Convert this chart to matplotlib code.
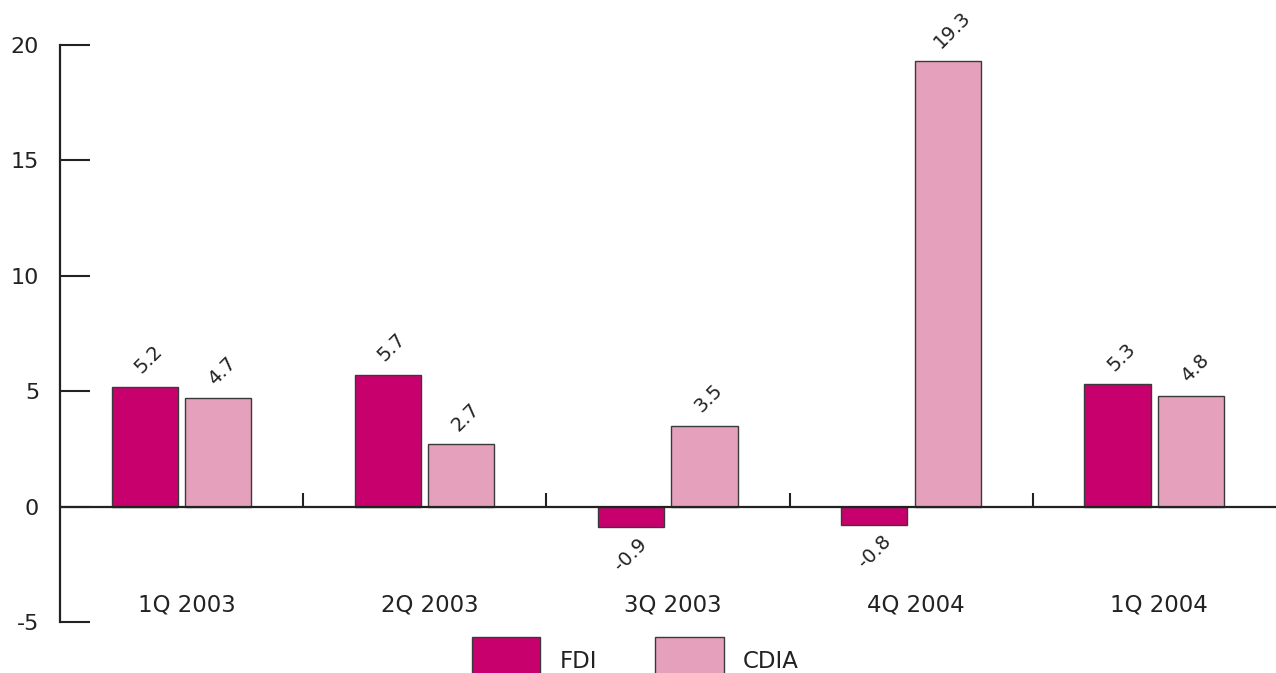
import numpy as np
import matplotlib
matplotlib.use('Agg')
import matplotlib.pyplot as plt
from matplotlib.patches import Patch

# Quarterly growth, percent
quarters = ['1Q 2003', '2Q 2003', '3Q 2003', '4Q 2004', '1Q 2004']
fdi = [5.2, 5.7, -0.9, -0.8, 5.3]
cdia = [4.7, 2.7, 3.5, 19.3, 4.8]

fdi_color = '#C8006E'
cdia_color = '#E5A1BC'
edge = '#3a3a3a'

plt.rcParams['font.family'] = 'DejaVu Sans'
plt.rcParams['axes.unicode_minus'] = False

fig = plt.figure(figsize=(12.76, 6.73), dpi=100)
ax = fig.add_axes([60 / 1276, 51 / 673, 1216 / 1276, 577 / 673])

x = np.arange(len(quarters))
w = 0.272
bars_fdi = ax.bar(x - 0.152, fdi, w, color=fdi_color, edgecolor=edge, linewidth=1.0, zorder=3)
bars_cdia = ax.bar(x + 0.15, cdia, w, color=cdia_color, edgecolor=edge, linewidth=1.0, zorder=3)

# value labels, tilted 45 degrees
for bars, vals in [(bars_fdi, fdi), (bars_cdia, cdia)]:
    for b, v in zip(bars, vals):
        cx = b.get_x() + b.get_width() / 2
        if v >= 0:
            ax.annotate(f'{v:.1f}', (cx, v), xytext=(3, 7), textcoords='offset points',
                        ha='center', va='bottom', rotation=45, fontsize=14, color='#222222')
        else:
            ax.annotate(f'{v:.1f}', (cx, v), xytext=(0, -5), textcoords='offset points',
                        ha='center', va='top', rotation=45, fontsize=14, color='#222222')

ax.set_xlim(-0.5, len(quarters) - 0.5)
ax.set_ylim(-5, 20)
ax.set_yticks([-5, 0, 5, 10, 15, 20])

for s in ['top', 'right', 'bottom']:
    ax.spines[s].set_visible(False)
ax.spines['left'].set_linewidth(1.6)
ax.spines['left'].set_color('#222222')

ax.tick_params(axis='y', direction='in', length=21.5, width=1.5, color='#222222',
               pad=15, labelsize=16, labelcolor='#222222')
ax.set_xticks([])

# zero line and group dividers
ax.axhline(0, color='#222222', linewidth=1.6, zorder=4)
ax.vlines(x[1:] - 0.5, 0, 0.6, color='#222222', linewidth=1.5, zorder=4)

# category names sit near the bottom of the plot
for xi, q in zip(x, quarters):
    ax.text(xi + 0.02, -4.25, q, ha='center', va='center', fontsize=16.5, color='#222222')

handles = [Patch(facecolor=fdi_color, edgecolor=edge, label='FDI'),
           Patch(facecolor=cdia_color, edgecolor=edge, label='CDIA')]
fig.legend(handles=handles, loc='upper left', bbox_to_anchor=(472 / 1276, 36 / 673),
           ncol=2, frameon=False, fontsize=16.5, handlelength=2.97, handleheight=2.9,
           handletextpad=0.85, columnspacing=2.55, borderpad=0, borderaxespad=0,
           labelcolor='#222222')

fig.savefig('out.png', dpi=100)
